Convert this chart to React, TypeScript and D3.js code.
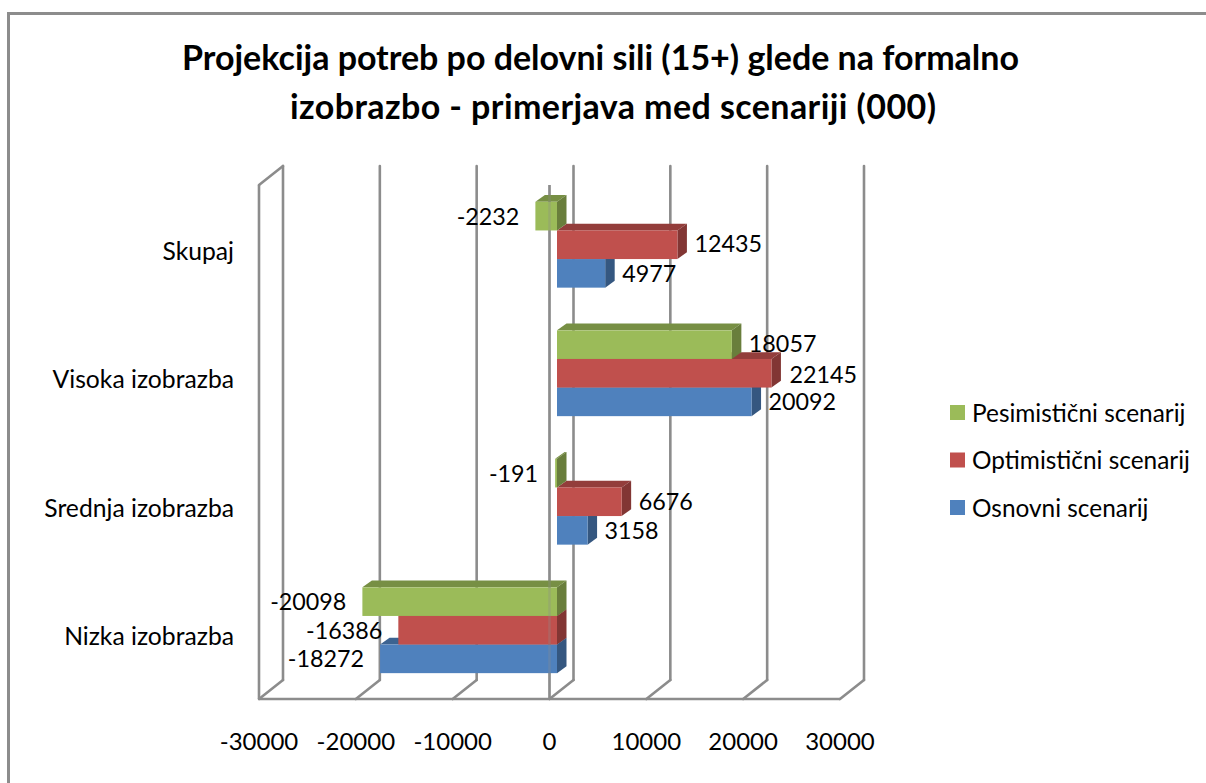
import React from "react";
import * as d3 from "d3";

const title = ["Projekcija potreb po delovni sili (15+) glede na formalno", "izobrazbo - primerjava med scenariji (000)"];
const categories = ["Skupaj", "Visoka izobrazba", "Srednja izobrazba", "Nizka izobrazba"];
const seriesNames = ["Pesimistični scenarij", "Optimistični scenarij", "Osnovni scenarij"];
const pesimisticni = [-2232, 18057, -191, -20098];
const optimisticni = [12435, 22145, 6676, -16386];
const osnovni = [4977, 20092, 3158, -18272];
const seriesValues = [pesimisticni, optimisticni, osnovni];
const ticks = [-30000, -20000, -10000, 0, 10000, 20000, 30000];
const colors = ["#9BBB59", "#C0504D", "#4F81BD"];
const FONT = "Lato, 'Open Sans', sans-serif";
const GRID = "#8C8C8C";

const labelOffsets = [
  [[-16, 0], [17, -1], [17, 0]],
  [[17, -1], [18, 1], [17, 0]],
  [[-17, 0], [17, 0], [17, 0]],
  [[-16, 0], [-16, 0], [-16, 0]],
];

export default function App() {
  const xFront = d3.scaleLinear().domain([-30000, 30000]).range([259, 840]);
  const xBar = d3.scaleLinear().domain([-30000, 30000]).range([266.5, 847.5]);
  const yCat = d3.scaleBand().domain(categories).range([180.5, 694.5]);
  const dx = 9.5, dy = 6.8, barH = 28.6;
  const wallDx = 24, wallDy = 19;
  const top = 185, bottom = 699;
  const sw = 2.6;

  const darken = (c: string, k: number) => d3.rgb(c).darker(k).formatHex();
  const order = [2, 1, 0];
  const titleStart = [182, 290];
  const titleWidth = [837, 646];

  return (
    <svg width={1206} height={783} style={{ position: "absolute", left: 0, top: 0, background: "#fff" }}>
      <rect x={8.5} y={13.5} width={1300} height={800} fill="#fff" stroke={GRID} strokeWidth={3} />
      {title.map((t, i) => (
        <text key={t} x={titleStart[i]} y={70 + i * 48.5} textLength={titleWidth[i]} lengthAdjust="spacing" fontFamily={FONT} fontWeight={700} fontSize={34} fill="#000">{t}</text>
      ))}
      {ticks.map((t) => (
        <line key={"b" + t} x1={xFront(t) + wallDx} x2={xFront(t) + wallDx} y1={top - wallDy} y2={bottom - wallDy} stroke={GRID} strokeWidth={sw} strokeLinecap="round" />
      ))}
      {ticks.map((t) => (
        <line key={"d" + t} x1={xFront(t)} x2={xFront(t) + wallDx} y1={bottom} y2={bottom - wallDy} stroke={GRID} strokeWidth={sw} strokeLinecap="round" />
      ))}
      <line x1={xFront(-30000)} x2={xFront(30000)} y1={bottom} y2={bottom} stroke={GRID} strokeWidth={sw} />
      <line x1={xFront(-30000)} x2={xFront(-30000)} y1={top} y2={bottom} stroke={GRID} strokeWidth={sw} />
      <line x1={xFront(-30000)} x2={xFront(-30000) + wallDx} y1={top} y2={top - wallDy} stroke={GRID} strokeWidth={sw} strokeLinecap="round" />
      <line x1={xFront(0)} x2={xFront(0)} y1={top} y2={bottom} stroke={GRID} strokeWidth={sw} />
      {[...categories.keys()].map((ci) =>
        order.map((si) => {
          const v = seriesValues[si][ci];
          const y = yCat(categories[ci])! + (yCat.bandwidth() - 3 * barH) / 2 + si * barH;
          const x0 = xBar(Math.min(v, 0));
          const x1 = xBar(Math.max(v, 0));
          const c = colors[si];
          return (
            <g key={ci + "-" + si}>
              <path d={`M${x0},${y}L${x0 + dx},${y - dy}L${x1 + dx},${y - dy}L${x1},${y}Z`} fill={darken(c, 0.75)} />
              <path d={`M${x1},${y}L${x1 + dx},${y - dy}L${x1 + dx},${y + barH - dy}L${x1},${y + barH}Z`} fill={darken(c, 1.1)} />
              <rect x={x0} y={y} width={x1 - x0} height={barH} fill={c} />
            </g>
          );
        })
      )}
      <line x1={xFront(0)} x2={xFront(0)} y1={top} y2={bottom} stroke={GRID} strokeWidth={sw} opacity={0.3} />
      {[...categories.keys()].map((ci) =>
        seriesValues.map((vals, si) => {
          const v = vals[ci];
          const y = yCat(categories[ci])! + (yCat.bandwidth() - 3 * barH) / 2 + si * barH;
          const [ox, oy] = labelOffsets[ci][si];
          const anchor = ox < 0 ? "end" : "start";
          return (
            <text key={"l" + ci + si} x={xBar(v) + ox} y={y + barH / 2 + 8.5 + oy} textAnchor={anchor} fontFamily={FONT} fontSize={23.3} fill="#000">{v}</text>
          );
        })
      )}
      {categories.map((c) => (
        <text key={c} x={234} y={yCat(c)! + yCat.bandwidth() / 2 + 15} textAnchor="end" fontFamily={FONT} fontSize={24.7} fill="#000">{c}</text>
      ))}
      {ticks.map((t) => (
        <text key={"t" + t} x={xFront(t)} y={750} textAnchor="middle" fontFamily={FONT} fontSize={24} fill="#000">{t}</text>
      ))}
      {seriesNames.map((s, i) => (
        <g key={s}>
          <rect x={950} y={405 + i * 47.5} width={15} height={15} fill={colors[i]} />
          <text x={972} y={421.5 + i * 47.5} fontFamily={FONT} fontSize={24.4} fill="#000">{s}</text>
        </g>
      ))}
    </svg>
  );
}
